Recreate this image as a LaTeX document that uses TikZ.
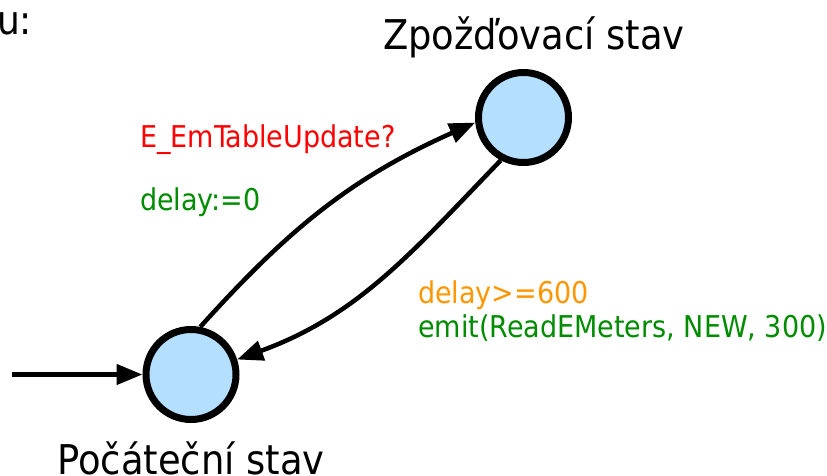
\documentclass[tikz,border=0pt]{standalone}
\usepackage{fontspec}
\setmainfont{DejaVu Sans Condensed}
\usetikzlibrary{arrows.meta}
\definecolor{stfill}{RGB}{180,223,255}
\definecolor{grd}{RGB}{0,140,0}
\definecolor{grdorange}{RGB}{255,150,0}
\tikzset{
  state/.style={circle, draw=black, line width=7pt, fill=stfill, minimum size=90pt, inner sep=0pt},
  edge/.style={line width=4.5pt, -{Triangle[length=26pt,width=20pt]}},
  title/.style={font=\fontsize{41}{45}\selectfont, inner sep=0pt},
  lbl/.style={font=\fontsize{30}{34}\selectfont, inner sep=0pt, anchor=base west}
}
\begin{document}
\begin{tikzpicture}[x=1pt,y=1pt]
\useasboundingbox (0,0) rectangle (827,475);
% states
\node[state] (init) at (191,100.5) {};
\node[state] (delay) at (523.5,357.5) {};
\node[title, anchor=base] (tinit) at (191,1) {Počáteční stav};
\node[title, anchor=base] (tdelay) at (534,425) {Zpožďovací stav};
\node[title, anchor=base west, font=\fontsize{40}{44}\selectfont] (head) at (-3,440) {u:};
% initial marker
\coordinate (start) at (12,100.5);
\draw[edge] (start) -- (init.west);
% transitions
\draw[edge] (init.79) to[out=48,in=204] (delay.186);
\draw[edge] (delay.242) to[out=226,in=20] (init.18);
% labels
\node[lbl, text=red] (l1) at (140,328) {E\_EmTableUpdate?};
\node[lbl, text=grd] (l2) at (140,265) {delay:=0};
\node[lbl, text=grdorange] (l3) at (418,172) {delay>=600};
\node[lbl, text=grd] (l4) at (418,138) {emit(ReadEMeters, NEW, 300)};
\end{tikzpicture}
\end{document}
